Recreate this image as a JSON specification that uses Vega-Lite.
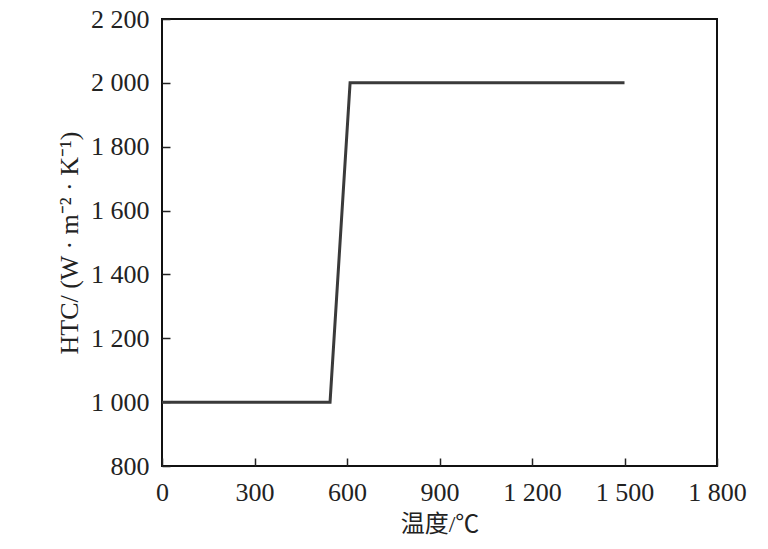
{
  "$schema": "https://vega.github.io/schema/vega-lite/v6.json",
  "width": 555,
  "height": 447,
  "autosize": {"type": "none"},
  "padding": {"left": 162, "top": 19, "right": 51, "bottom": 83},
  "background": "white",
  "config": {
    "view": {"stroke": "#111", "strokeWidth": 2},
    "font": "Liberation Serif"
  },
  "data": {
    "values": [
      {"T": 0, "HTC": 1000},
      {"T": 545, "HTC": 1000},
      {"T": 610, "HTC": 2000},
      {"T": 1500, "HTC": 2000}
    ]
  },
  "mark": {"type": "line", "color": "#3a3a3a", "strokeWidth": 3},
  "encoding": {
    "x": {
      "field": "T",
      "type": "quantitative",
      "scale": {"domain": [0, 1800], "nice": false},
      "axis": {
        "title": "温度/℃",
        "values": [0, 300, 600, 900, 1200, 1500, 1800],
        "format": ",d",
        "labelExpr": "replace(datum.label, ',', ' ')",
        "grid": false,
        "domain": false,
        "tickSize": -8,
        "tickColor": "#222",
        "tickWidth": 1.5,
        "labelPadding": 21,
        "labelFont": "Liberation Serif",
        "labelFontSize": 26,
        "labelColor": "#222",
        "labelFlush": false,
        "titleFont": "Liberation Serif, Noto Sans CJK SC",
        "titleFontSize": 24,
        "titleFontWeight": "normal",
        "titleColor": "#222",
        "titlePadding": 7
      }
    },
    "y": {
      "field": "HTC",
      "type": "quantitative",
      "scale": {"domain": [800, 2200], "nice": false},
      "axis": {
        "title": "HTC/ (W · m⁻² · K⁻¹)",
        "values": [800, 1000, 1200, 1400, 1600, 1800, 2000, 2200],
        "format": ",d",
        "labelExpr": "replace(datum.label, ',', ' ')",
        "grid": false,
        "domain": false,
        "tickSize": -8,
        "tickColor": "#222",
        "tickWidth": 1.5,
        "labelPadding": 21,
        "labelFont": "Liberation Serif",
        "labelFontSize": 26,
        "labelColor": "#222",
        "labelFlush": false,
        "titleFont": "Liberation Serif",
        "titleFontSize": 26,
        "titleFontWeight": "normal",
        "titleColor": "#222",
        "titlePadding": 8
      }
    }
  }
}
